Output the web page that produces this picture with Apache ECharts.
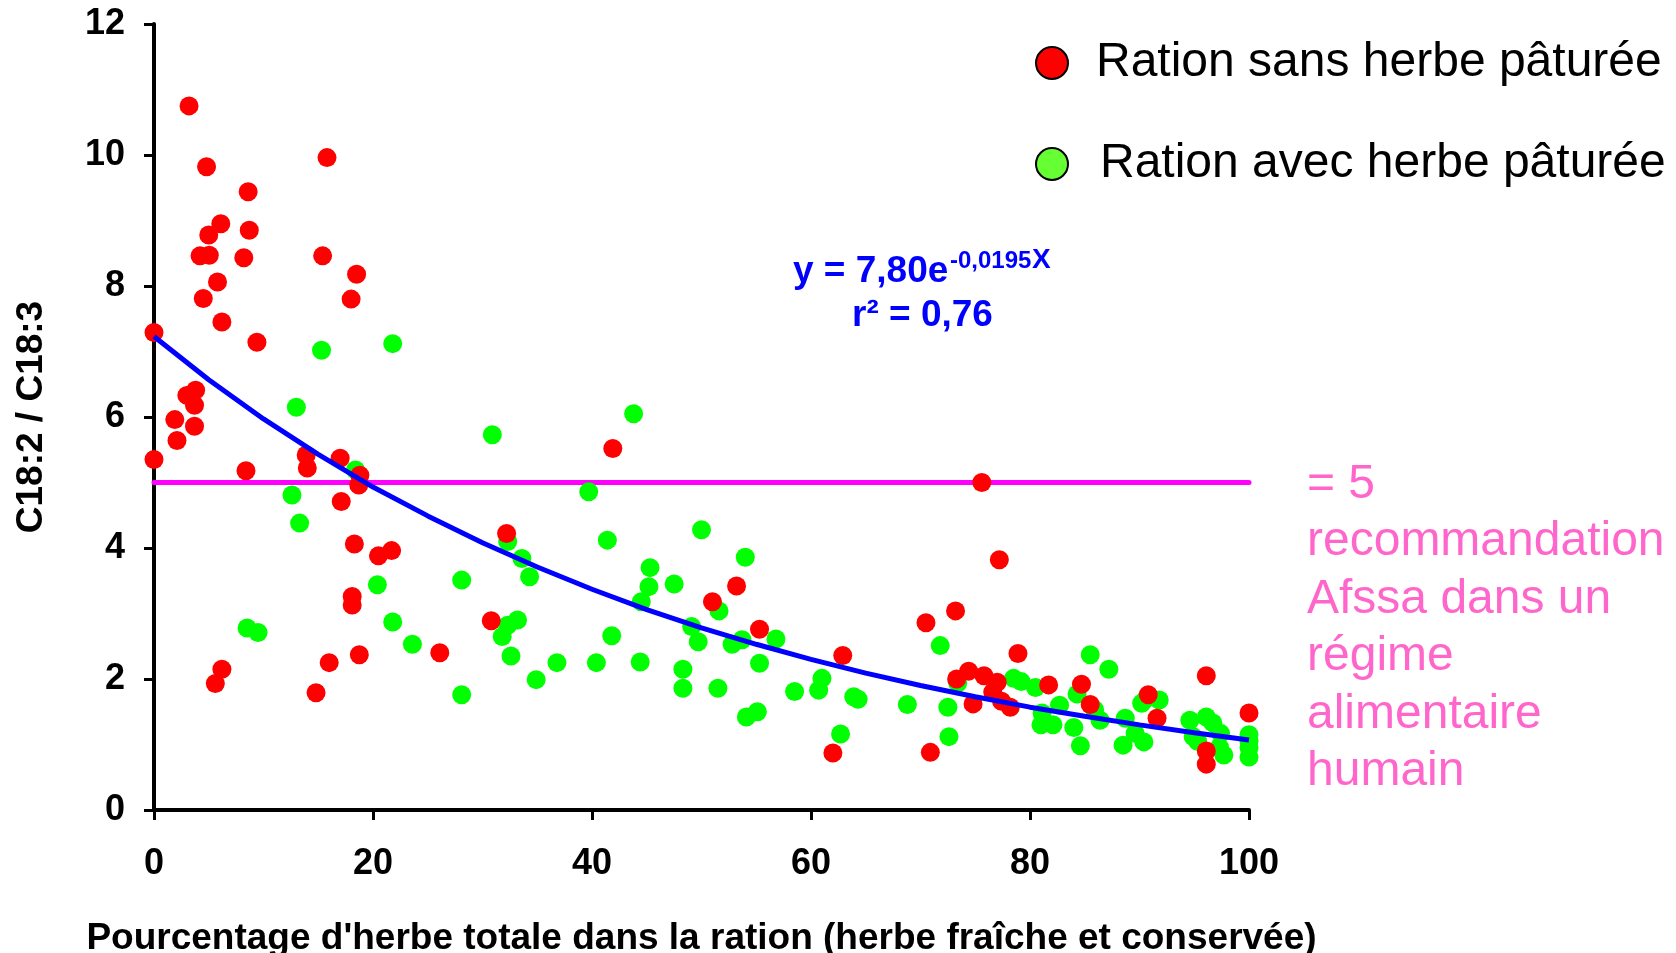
<!DOCTYPE html>
<html><head><meta charset="utf-8">
<script src="https://cdn.jsdelivr.net/npm/echarts@6/dist/echarts.min.js"></script>
<style>html,body{margin:0;padding:0;background:#fff}#c{width:1676px;height:953px}</style>
</head><body><div id="c"></div>
<script>
// ---- data ----
const redPoints = [
  [0,7.29],[0,5.35],[1.9,5.96],[2.1,5.64],[3.0,6.33],[3.2,10.75],[3.7,6.18],[3.7,5.86],[3.8,6.41],
  [4.2,8.46],[4.5,7.81],[4.8,9.82],[5.0,8.78],[5.05,8.47],[5.6,1.93],[5.8,8.06],[6.1,8.95],[6.2,7.45],
  [6.2,2.15],[8.2,8.43],[8.4,5.18],[8.6,9.44],[8.7,8.85],[9.4,7.14],[13.9,5.42],[14.0,5.22],[14.8,1.79],
  [15.4,8.46],[15.8,9.96],[16.0,2.25],[17.0,5.37],[17.1,4.71],[18.0,7.80],[18.1,3.26],[18.1,3.13],
  [18.3,4.06],[18.5,8.18],[18.7,4.96],[18.75,2.37],[18.8,5.11],[20.5,3.88],[21.7,3.96],[26.1,2.40],
  [30.8,2.89],[32.2,4.22],[41.9,5.52],[51.0,3.18],[53.2,3.42],[55.3,2.76],[62.0,0.87],[62.9,2.36],
  [70.5,2.86],[70.9,0.88],[73.2,3.04],[73.3,2.0],[74.4,2.12],[74.8,1.62],[75.6,5.0],[75.8,2.05],
  [76.6,1.80],[77.0,1.95],[77.2,3.82],[77.4,1.66],[78.2,1.57],[78.9,2.39],[81.7,1.91],[84.7,1.92],
  [85.5,1.61],[90.8,1.76],[91.6,1.40],[96.1,2.05],[96.1,0.90],[96.1,0.70],[100,1.48]
];
const greenPoints = [
  [8.5,2.78],[9.5,2.71],[12.6,4.81],[13.0,6.15],[13.3,4.38],[15.3,7.02],[18.4,5.19],[20.4,3.44],
  [21.8,7.12],[21.8,2.87],[23.6,2.53],[28.1,3.51],[28.1,1.76],[30.9,5.73],[31.8,2.65],[32.3,4.10],
  [32.3,2.82],[32.6,2.35],[33.2,2.90],[33.6,3.84],[34.3,3.56],[34.9,1.99],[36.8,2.25],[39.7,4.86],
  [40.4,2.25],[41.4,4.12],[41.8,2.66],[43.8,6.05],[44.4,2.26],[44.5,3.18],[45.2,3.41],[45.3,3.70],
  [47.5,3.45],[48.3,2.15],[48.3,1.86],[49.1,2.80],[49.7,2.57],[50.0,4.28],[51.5,1.86],[51.6,3.04],
  [52.8,2.53],[53.7,2.60],[54.0,3.86],[54.1,1.42],[55.1,1.50],[55.3,2.24],[56.8,2.61],[58.5,1.81],
  [60.7,1.83],[61.0,2.01],[62.7,1.16],[63.9,1.73],[64.3,1.69],[68.8,1.61],[71.8,2.51],[72.5,1.57],
  [72.6,1.12],[73.4,1.94],[78.5,2.01],[79.2,1.96],[80.5,1.87],[81.0,1.30],[81.1,1.48],[82.1,1.30],
  [82.7,1.60],[84.0,1.26],[84.3,1.77],[84.6,0.98],[85.5,2.37],[85.9,1.53],[86.4,1.37],[87.2,2.15],
  [88.5,0.99],[88.7,1.40],[89.6,1.17],[90.2,1.63],[90.4,1.04],[90.6,1.70],[91.8,1.68],[94.6,1.37],
  [94.9,1.12],[95.3,1.05],[96.1,1.42],[96.7,1.33],[97.4,1.17],[97.7,0.84],[97.3,0.96],
  [100,1.15],[100,1.05],[100,0.95],[100,0.81]
];
const trendX = [0,5,10,15,20,25,30,35,40,45,50,55,60,65,70,75,80,85,90,95,100];
const trendY = [7.23,6.57,5.97,5.43,4.93,4.49,4.08,3.71,3.37,3.06,2.78,2.53,2.30,2.09,1.90,1.73,1.57,1.43,1.30,1.18,1.07];
const recoX = [0,100];
const recoY = [5,5];
const seriesNames = ['Ration sans herbe pâturée','Ration avec herbe pâturée'];
const xTitle = "Pourcentage d'herbe totale dans la ration (herbe fraîche et conservée)";
const yTitle = 'C18:2 / C18:3';
const recoText = ['= 5','recommandation','Afssa dans un','régime','alimentaire','humain'];

// ---- chart ----
const FF = "'Liberation Sans', Arial, sans-serif";
const chart = echarts.init(document.getElementById('c'), null, {renderer:'canvas'});
const axisCommon = {
  type:'value',
  axisLine:{show:true, onZero:false, lineStyle:{color:'#000', width:4}},
  axisTick:{show:true, length:10, lineStyle:{color:'#000', width:3}},
  splitLine:{show:false},
  axisLabel:{color:'#000', fontSize:36, fontWeight:'bold', fontFamily:FF},
  nameLocation:'middle',
  nameTextStyle:{color:'#000', fontSize:37, fontWeight:'bold', fontFamily:FF, lineHeight:37}
};
chart.setOption({
  animation:false,
  backgroundColor:'#fff',
  grid:{left:154, top:24, width:1095, height:786, containLabel:false, outerBoundsMode:'none'},
  xAxis:Object.assign({}, axisCommon, {
    min:0, max:100, interval:20,
    axisLabel:Object.assign({}, axisCommon.axisLabel, {margin:36}),
    name:xTitle, nameGap:110
  }),
  yAxis:Object.assign({}, axisCommon, {
    min:0, max:12, interval:2,
    axisLabel:Object.assign({}, axisCommon.axisLabel, {margin:29}),
    name:yTitle, nameGap:104, nameRotate:90
  }),
  legend:[
    {left:1035, top:39, padding:0, icon:'circle', itemWidth:32, itemHeight:32,
     textStyle:{fontSize:48, fontFamily:FF, color:'#000', lineHeight:48, padding:[0,0,0,23]},
     data:[{name:seriesNames[0], itemStyle:{color:'#FF0000', borderColor:'#000', borderWidth:2}}]},
    {left:1035, top:140, padding:0, icon:'circle', itemWidth:32, itemHeight:32,
     textStyle:{fontSize:48, fontFamily:FF, color:'#000', lineHeight:48, padding:[0,0,0,27]},
     data:[{name:seriesNames[1], itemStyle:{color:'#66FF33', borderColor:'#000', borderWidth:2}}]}
  ],
  series:[
    {type:'line', name:'reco', data:recoX.map((x,i)=>[x,recoY[i]]), symbol:'none', silent:true,
     lineStyle:{color:'#FF00FF', width:5, cap:'round'}, z:1},
    {type:'scatter', name:seriesNames[1], data:greenPoints, symbol:'circle', symbolSize:19,
     itemStyle:{color:'#00FF00', opacity:1}, z:2},
    {type:'scatter', name:seriesNames[0], data:redPoints, symbol:'circle', symbolSize:19,
     itemStyle:{color:'#FF0000', opacity:1}, z:3},
    {type:'line', name:'trend', data:trendX.map((x,i)=>[x,trendY[i]]), symbol:'none', silent:true,
     lineStyle:{color:'#0000FF', width:5}, z:4}
  ],
  graphic:[
    {type:'text', left:793, top:253, z:10, style:{text:'y = 7,80e', font:"bold 37px 'Liberation Sans', Arial", fill:'#0000FF'}},
    {type:'text', left:950, top:249, z:10, style:{text:'-0,0195', font:"bold 24px 'Liberation Sans', Arial", fill:'#0000FF'}},
    {type:'text', left:1032, top:246, z:10, style:{text:'X', font:"bold 28px 'Liberation Sans', Arial", fill:'#0000FF'}},
    {type:'text', left:852, top:297, z:10, style:{text:'r² = 0,76', font:"bold 37px 'Liberation Sans', Arial", fill:'#0000FF'}},
    {type:'text', left:1307, top:456, z:10, style:{text:recoText.join('\n'), font:"48px 'Liberation Sans', Arial", lineHeight:57.5, fill:'#FF66CC'}}
  ]
});
</script></body></html>
